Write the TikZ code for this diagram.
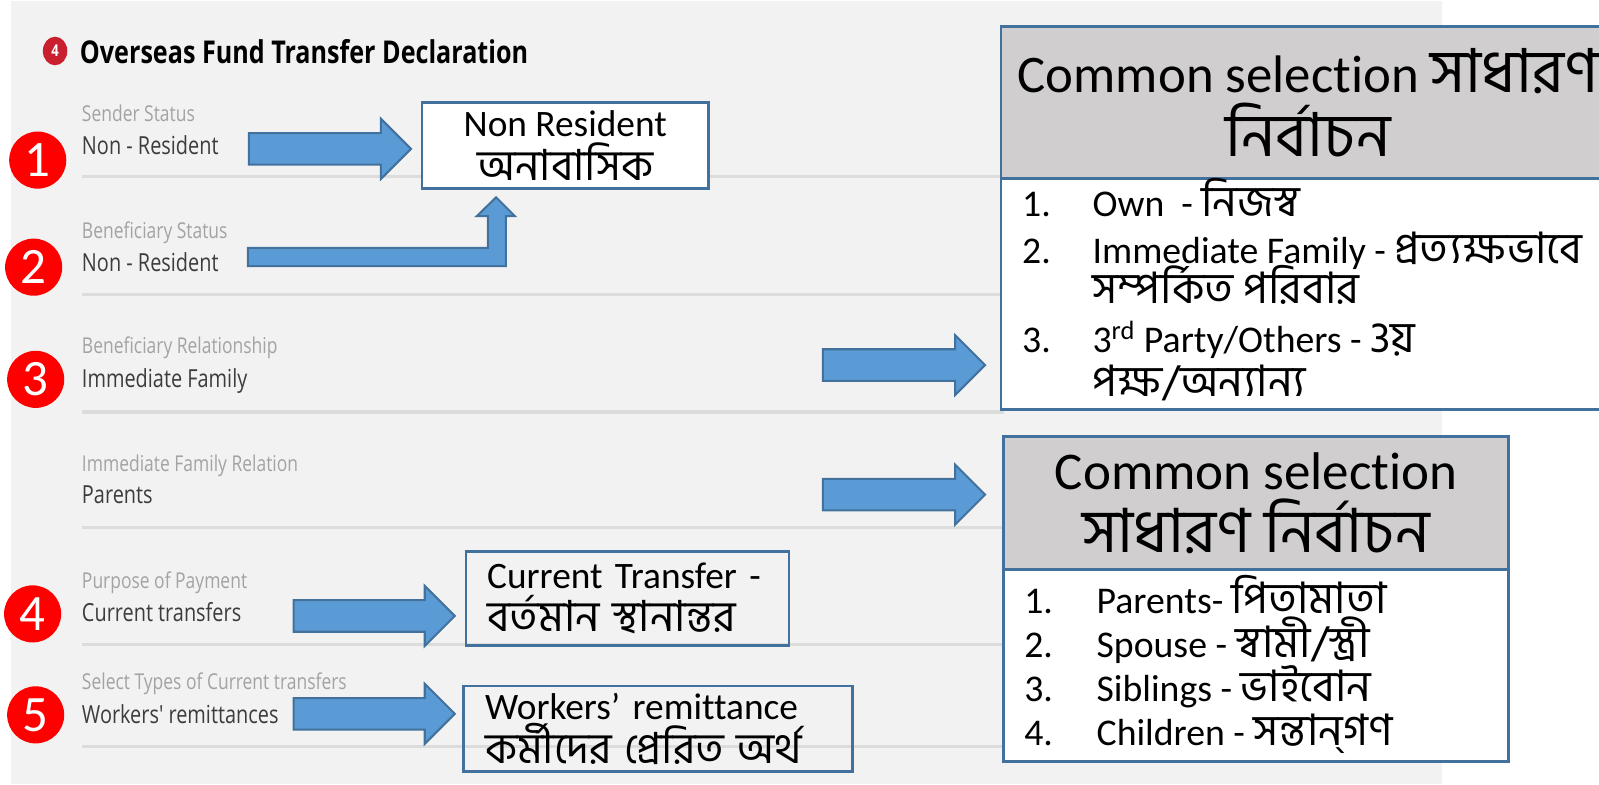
\documentclass[tikz,border=0pt]{standalone}
\usepackage{fontspec}
\setmainfont{Carlito}[Ligatures=NoCommon]
\newfontfamily\bnfont[Script=Bengali,Scale=1.15]{Hind Siliguri}
\newfontfamily\formfont[FakeStretch=0.8]{Open Sans}
\usetikzlibrary{shapes.geometric,shapes.arrows}
\definecolor{panelgray}{HTML}{F2F2F2}
\definecolor{ruleline}{HTML}{DCDCDC}
\definecolor{boxline}{HTML}{41719C}
\definecolor{arrowblue}{HTML}{5B9BD5}
\definecolor{headgray}{HTML}{D0CECE}
\definecolor{badgedark}{HTML}{C9202F}
\definecolor{labelgray}{HTML}{A3A3A3}
\definecolor{valuegray}{HTML}{3C3C3C}
\tikzset{
  formlabel/.style={anchor=base west, inner sep=0pt, text=labelgray, font=\formfont\fontsize{10.7pt}{12pt}\selectfont},
  formvalue/.style={anchor=base west, inner sep=0pt, text=valuegray, font=\formfont\fontsize{12.2pt}{14pt}\selectfont},
  rowline/.style={draw=ruleline, line width=1.5pt},
  badge/.style={circle, fill=red, text=white, inner sep=0pt, minimum size=28pt, font=\fontsize{25pt}{27pt}\selectfont},
  blockarrow/.style={single arrow, draw=boxline, fill=arrowblue, line width=1pt, anchor=tail, inner sep=0pt,
    text height=14.5pt, single arrow head extend=7pt, single arrow tip angle=90},
  textbox/.style={draw=boxline, line width=1.25pt, anchor=north west, inner sep=0pt, font=\fontsize{18.3pt}{21.5pt}\selectfont},
  headbox/.style={textbox, fill=headgray, align=center},
  bodybox/.style={textbox, fill=white},
  listitem/.style={anchor=base west, inner sep=0pt, text height=13pt, text depth=2pt, font=\fontsize{18.5pt}{20pt}\selectfont}
}
\begin{document}
\begin{tikzpicture}[x=0.5pt, y=-0.5pt]
    \useasboundingbox (0,0) rectangle (1568,769);
    % Form panel
    \fill[panelgray] (11,1) rectangle (1414,769);
    \node[ellipse, fill=badgedark, text=white, inner sep=0pt, minimum width=12pt, minimum height=14pt, font=\formfont\bfseries\fontsize{8pt}{9pt}\selectfont] (formbadge) at (54,50) {4};
    \node[anchor=base west, inner sep=0pt, font=\formfont\bfseries\fontsize{15.4pt}{18pt}\selectfont] (formtitle) at (78,62) {Overseas Fund Transfer Declaration};

    % Form rows
    \node[formlabel] (senderlabel) at (80,119) {Sender Status};
    \node[formvalue] (sendervalue) at (80,152) {Non - Resident};
    \draw[rowline] (80,173) -- (1000,173);
    \node[formlabel] (benlabel) at (80,234) {Beneficiary Status};
    \node[formvalue] (benvalue) at (80,266) {Non - Resident};
    \draw[rowline] (80,289) -- (1000,289);
    \node[formlabel] (rellabel) at (80,347) {Beneficiary Relationship};
    \node[formvalue] (relvalue) at (80,380) {Immediate Family};
    \draw[rowline] (80,404) -- (985,404);
    \node[formlabel] (famlabel) at (80,462) {Immediate Family Relation};
    \node[formvalue] (famvalue) at (80,494) {Parents};
    \draw[rowline] (80,517) -- (1000,517);
    \node[formlabel] (purposelabel) at (80,577) {Purpose of Payment};
    \node[formvalue] (purposevalue) at (80,609) {Current transfers};
    \draw[rowline] (80,632) -- (1000,632);
    \node[formlabel] (typelabel) at (80,676) {Select Types of Current transfers};
    \node[formvalue] (typevalue) at (80,709) {Workers' remittances};
    \draw[rowline] (80,732) -- (1000,732);

    % Red numbers
    \node[badge] (num1) at (37,157) {1};
    \node[badge] (num2) at (33,262) {2};
    \node[badge] (num3) at (35,372) {3};
    \node[badge] (num4) at (32,602) {4};
    \node[badge] (num5) at (35,701) {5};

    % Block arrows
    \node[blockarrow, minimum height=79.5pt] (arrow1) at (243,146) {};
    \draw[draw=boxline, fill=arrowblue, line width=1pt] (243,243) -- (478.5,243) -- (478.5,212) -- (467.5,212) -- (486.5,193.5) -- (505,212) -- (496,212) -- (496,261) -- (243,261) -- cycle;
    \node[blockarrow, minimum height=79.5pt] (arrow3) at (806,358) {};
    \node[blockarrow, minimum height=79.5pt] (arrow4) at (806,485) {};
    \node[blockarrow, minimum height=79pt] (arrow5) at (287,604) {};
    \node[blockarrow, minimum height=79pt] (arrow6) at (287,700) {};

    % Small boxes
    \node[textbox, fill=white, align=center, minimum width=140.5pt, minimum height=42pt] (nonresident) at (412.5,99.5) {Non Resident\\{\bnfont অনাবাসিক}};
    \node[textbox, align=left, inner xsep=10.5pt, text width=137.5pt, minimum height=46pt] (currentbox) at (455.5,539.5) {Current Transfer -\\{\bnfont বর্তমান স্থানান্তর}};
    \node[textbox, align=left, inner xsep=10.5pt, text width=169.5pt, minimum height=42pt] (workersbox) at (453.5,671.5) {Workers’ remittance\\[0.5pt]{\bnfont কর্মীদের প্রেরিত অর্থ}};

    % Common selection, top
    \node[headbox, minimum width=301pt, minimum height=74.5pt, font=\fontsize{25.9pt}{31pt}\selectfont] (sel1head) at (980.5,25) {Common selection {\bnfont সাধারণ}\\{\bnfont নির্বাচন}};
    \node[bodybox, minimum width=301pt, minimum height=113pt] (sel1body) at (980.5,174.5) {};
    \node[listitem] (own1) at (1002,212.5) {1.};
    \node[listitem] (own) at (1071,212.5) {Own\ \ - {\bnfont নিজস্ব}};
    \node[listitem] (imm1) at (1002,258.5) {2.};
    \node[listitem] (imm) at (1071,258.5) {Immediate Family - {\bnfont প্রত্যক্ষভাবে}};
    \node[listitem] (immb) at (1071,297.5) {\bnfont সম্পর্কিত পরিবার};
    \node[listitem] (third1) at (1002,345.5) {3.};
    \node[listitem] (third) at (1071,345.5) {3\textsuperscript{rd} Party/Others - {\bnfont 3য়}};
    \node[listitem] (thirdb) at (1071,388.5) {\bnfont পক্ষ/অন্যান্য};

    % Common selection, bottom
    \node[headbox, minimum width=247.5pt, minimum height=65pt, font=\fontsize{26pt}{31pt}\selectfont] (sel2head) at (983,427) {Common selection\\{\bnfont সাধারণ নির্বাচন}};
    \node[bodybox, minimum width=247.5pt, minimum height=94pt] (sel2body) at (983,557.5) {};
    \node[listitem] (par1) at (1004,601.5) {1.};
    \node[listitem] (par) at (1075,601.5) {Parents- {\bnfont পিতামাতা}};
    \node[listitem] (spo1) at (1004,644.5) {2.};
    \node[listitem] (spo) at (1075,644.5) {Spouse - {\bnfont স্বামী/স্ত্রী}};
    \node[listitem] (sib1) at (1004,687.5) {3.};
    \node[listitem] (sib) at (1075,687.5) {Siblings - {\bnfont ভাইবোন}};
    \node[listitem] (chi1) at (1004,731.5) {4.};
    \node[listitem] (chi) at (1075,731.5) {Children - {\bnfont সন্তান্‌গণ}};
\end{tikzpicture}
\end{document}
